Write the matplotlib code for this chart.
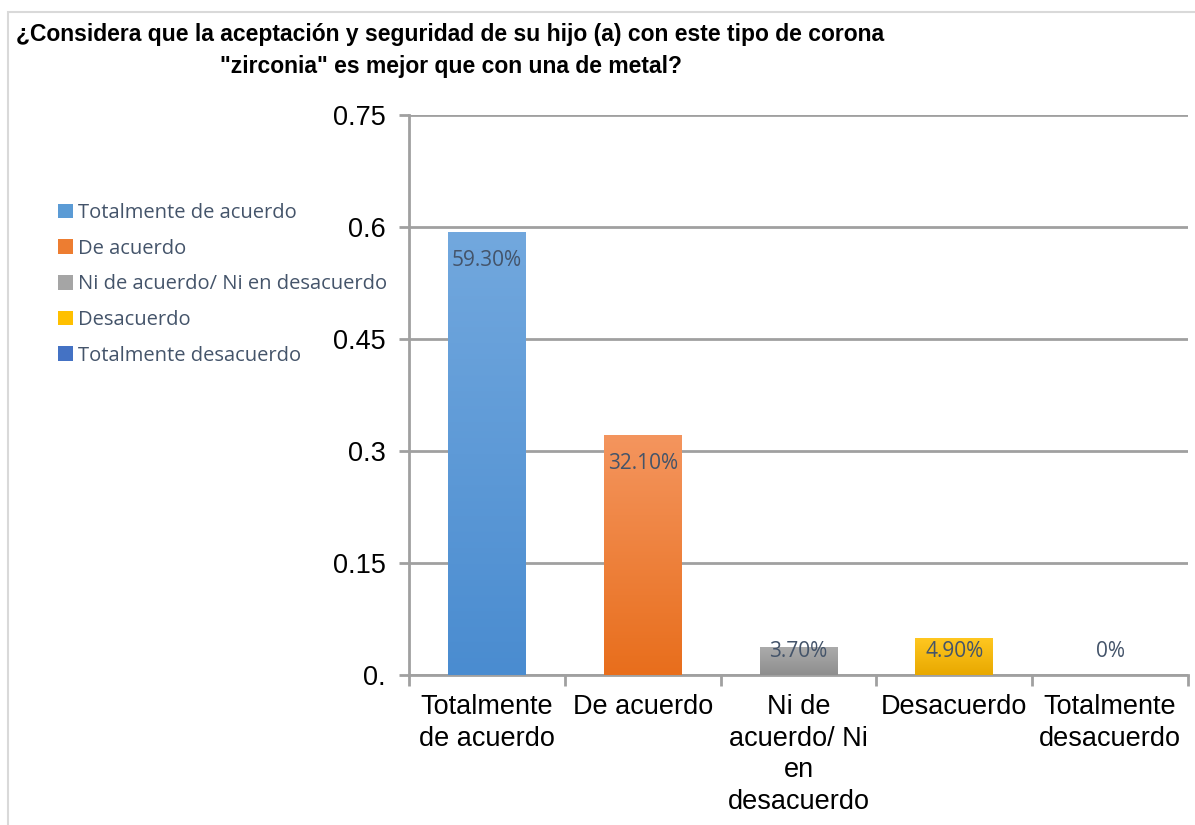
import numpy as np
import matplotlib.pyplot as plt
from matplotlib.patches import Rectangle, Patch
from matplotlib.colors import LinearSegmentedColormap
from matplotlib.ticker import FixedLocator, FixedFormatter

# data
categories = ['Totalmente de acuerdo', 'De acuerdo', 'Ni de acuerdo/ Ni en desacuerdo',
              'Desacuerdo', 'Totalmente desacuerdo']
tick_labels = ['Totalmente\nde acuerdo', 'De acuerdo', 'Ni de\nacuerdo/ Ni\nen\ndesacuerdo',
               'Desacuerdo', 'Totalmente\ndesacuerdo']
values = [0.593, 0.321, 0.037, 0.049, 0.0]
value_labels = ['59.30%', '32.10%', '3.70%', '4.90%', '0%']
y_ticks = [0, 0.15, 0.3, 0.45, 0.6, 0.75]
y_tick_labels = ['0.', '0.15', '0.3', '0.45', '0.6', '0.75']

# gradient colours (top, bottom) per bar
top_colors = ['#72A8DE', '#F4955E', '#ABABAB', '#FFC720', '#5A86CF']
bottom_colors = ['#4A8CD0', '#E86E1C', '#8E8E8E', '#E8A800', '#3E6CC0']
legend_colors = ['#5B9BD5', '#ED7D31', '#A5A5A5', '#FFC000', '#4472C4']

TEXT_GREY = '#44546A'

fig = plt.figure(figsize=(11.95, 8.25), dpi=100)
ax = fig.add_axes([0.3423, 0.1818, 0.6518, 0.6788])

# light frame around the chart area
fig.patches.append(Rectangle((8 / 1195, -0.01), 1.0, 1 - 12 / 825 + 0.01,
                             transform=fig.transFigure, fill=False,
                             edgecolor='#D9D9D9', linewidth=1.5))

x = np.arange(len(values))
bars = ax.bar(x, values, width=0.5, color=legend_colors, zorder=3)

# paint a vertical gradient into each bar
grad = np.linspace(0, 1, 256).reshape(-1, 1)
for b, c_top, c_bot in zip(bars, top_colors, bottom_colors):
    if b.get_height() <= 0:
        continue
    cmap = LinearSegmentedColormap.from_list('g', [c_bot, c_top])
    x0, y0 = b.get_x(), b.get_y()
    im = ax.imshow(grad, cmap=cmap, aspect='auto', origin='lower',
                   extent=(x0, x0 + b.get_width(), y0, y0 + b.get_height()), zorder=3)
    im.set_clip_path(b)

for xi, v, lab in zip(x, values, value_labels):
    ax.text(xi, max(v - 0.038, 0.032), lab, ha='center', va='center',
            fontsize=15, color=TEXT_GREY, family='Open Sans', zorder=5)

ax.set_xlim(-0.5, len(values) - 0.5)
ax.set_ylim(0, 0.75)

ax.yaxis.set_major_locator(FixedLocator(y_ticks))
ax.yaxis.set_major_formatter(FixedFormatter(y_tick_labels))
ax.set_xticks(x)
ax.set_xticklabels(tick_labels, fontsize=19.5, family='Liberation Sans', linespacing=1.27)
ax.tick_params(axis='x', length=0, pad=14)
ax.set_xticks(np.arange(-0.5, len(values)), minor=True)
ax.tick_params(axis='x', which='minor', length=8, width=2, color='#A0A0A0', direction='out')
ax.tick_params(axis='y', length=7, width=2, color='#A0A0A0', labelsize=19.5, pad=10)
for lab in ax.get_yticklabels():
    lab.set_family('Liberation Sans')

ax.grid(axis='y', color='#A0A0A0', linewidth=2, zorder=0)
ax.set_axisbelow(True)
for s in ['top', 'right']:
    ax.spines[s].set_visible(False)
ax.spines['left'].set_color('#A0A0A0')
ax.spines['left'].set_linewidth(2)
ax.spines['bottom'].set_color('#A0A0A0')
ax.spines['bottom'].set_linewidth(2)

handles = [Patch(facecolor=c, edgecolor='none') for c in legend_colors]
leg = fig.legend(handles, categories, loc='upper left', bbox_to_anchor=(0.033, 0.776),
                 frameon=False, handlelength=0.75, handleheight=0.75,
                 handletextpad=0.25, labelspacing=0.78, prop={'family': 'Open Sans', 'size': 14.5})
for t in leg.get_texts():
    t.set_color(TEXT_GREY)

fig.text(0.377, 0.972, '¿Considera que la aceptación y seguridad de su hijo (a) con este tipo de corona\n'
         '"zirconia" es mejor que con una de metal?', ha='center', va='top',
         fontsize=16.5, fontweight='bold', family='Liberation Sans', linespacing=1.5)

fig.savefig('out.png', dpi=100)
